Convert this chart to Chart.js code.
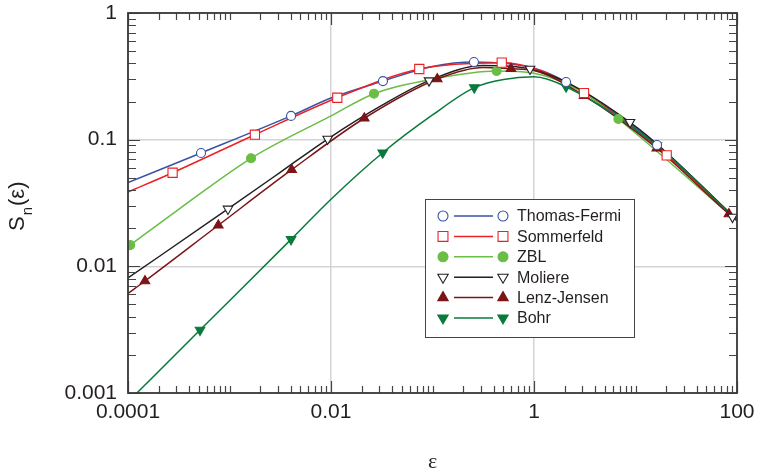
<!DOCTYPE html>
<html>
<head>
<meta charset="utf-8">
<script src="https://cdn.jsdelivr.net/npm/chart.js@4.4.0/dist/chart.umd.min.js"></script>
<style>
  html, body { margin: 0; padding: 0; background: #fff; }
  #c { display: block; }
</style>
</head>
<body>
<canvas id="c" width="757" height="474"></canvas>
<script>
// values: epsilon (x) and Sn(epsilon) (y)
const tfLineX = [1e-4, 5.24e-4, 4.04e-3, 0.01, 0.0325, 0.1, 0.256, 1, 2.07, 16.3, 100];
const tfLineY = [0.0459, 0.0785, 0.154, 0.213, 0.290, 0.378, 0.410, 0.366, 0.285, 0.0908, 0.0232];
const tfMarkX = [5.24e-4, 4.04e-3, 0.0325, 0.256, 2.07, 16.3];
const tfMarkY = [0.0785, 0.154, 0.290, 0.410, 0.285, 0.0908];

const sfLineX = [1e-4, 2.75e-4, 1.78e-3, 0.01153, 0.0741, 0.481, 1, 3.11, 20.3, 100];
const sfLineY = [0.0386, 0.0548, 0.1094, 0.2143, 0.3614, 0.4055, 0.366, 0.2333, 0.0752, 0.0229];
const sfMarkX = [2.75e-4, 1.78e-3, 0.01153, 0.0741, 0.481, 3.11, 20.3];
const sfMarkY = [0.0548, 0.1094, 0.2143, 0.3614, 0.4055, 0.2333, 0.0752];

const zblLineX = [1e-4, 3.16e-4, 1.63e-3, 0.01, 0.0265, 0.1, 0.4285, 1, 3.16, 6.78, 100];
const zblLineY = [0.0143, 0.0282, 0.0713, 0.154, 0.2307, 0.300, 0.3483, 0.334, 0.2323, 0.1455, 0.0229];
const zblMarkX = [1.05e-4, 1.63e-3, 0.0265, 0.4285, 6.78];
const zblMarkY = [0.0147, 0.0713, 0.2307, 0.3483, 0.1455];

const molLineX = [1e-4, 9.66e-4, 3.16e-3, 9.27e-3, 0.0316, 0.0925, 0.316, 0.914, 8.83, 100];
const molLineY = [0.00809, 0.0284, 0.0552, 0.1012, 0.1862, 0.2924, 0.3846, 0.3614, 0.1371, 0.0234];
const molMarkX = [9.66e-4, 9.27e-3, 0.0925, 0.914, 8.83, 90.2];
const molMarkY = [0.0284, 0.1012, 0.2924, 0.3614, 0.1371, 0.0245];

const ljLineX = [1e-4, 1.47e-4, 7.76e-4, 4.10e-3, 0.02128, 0.1114, 0.316, 0.593, 1, 3.11, 16.2, 83.2, 100];
const ljLineY = [0.00611, 0.00766, 0.0211, 0.0579, 0.1476, 0.3013, 0.372, 0.3631, 0.351, 0.2223, 0.0855, 0.0259, 0.0229];
const ljMarkX = [1.47e-4, 7.76e-4, 4.10e-3, 0.02128, 0.1114, 0.593, 3.11, 16.2, 83.2];
const ljMarkY = [0.00766, 0.0211, 0.0579, 0.1476, 0.3013, 0.3631, 0.2223, 0.0855, 0.0259];

const bohrLineX = [1e-4, 5.12e-4, 4.04e-3, 0.01, 0.0323, 0.1, 0.258, 0.501, 1, 2.07, 16.2, 100];
const bohrLineY = [0.000851, 0.00314, 0.01633, 0.0339, 0.0789, 0.1567, 0.2576, 0.299, 0.314, 0.2618, 0.0897, 0.0232];
const bohrMarkX = [5.12e-4, 4.04e-3, 0.0323, 0.258, 2.07, 16.2];
const bohrMarkY = [0.00314, 0.01633, 0.0789, 0.2576, 0.2618, 0.0897];

const xLabelValues = [1e-4, 1e-2, 1, 100];
const xTickLabels = ['0.0001', '0.01', '1', '100'];
const yLabelValues = [1e-3, 1e-2, 1e-1, 1];
const yTickLabels = ['0.001', '0.01', '0.1', '1'];

const FONT = '"Liberation Sans", Arial, sans-serif';
const INK = '#231f20';

const series = [
  {name: 'Thomas-Fermi', color: '#3953a4', lx: tfLineX, ly: tfLineY, mx: tfMarkX, my: tfMarkY, style: 'circle', rot: 0, filled: false, r: 4.5},
  {name: 'Sommerfeld', color: '#ed2024', lx: sfLineX, ly: sfLineY, mx: sfMarkX, my: sfMarkY, style: 'rect', rot: 0, filled: false, r: 6.5},
  {name: 'ZBL', color: '#6abd45', lx: zblLineX, ly: zblLineY, mx: zblMarkX, my: zblMarkY, style: 'circle', rot: 0, filled: true, r: 4.5},
  {name: 'Moliere', color: '#231f20', lx: molLineX, ly: molLineY, mx: molMarkX, my: molMarkY, style: 'triangle', rot: 180, filled: false, r: 5.5},
  {name: 'Lenz-Jensen', color: '#7d1416', lx: ljLineX, ly: ljLineY, mx: ljMarkX, my: ljMarkY, style: 'triangle', rot: 0, filled: true, r: 5.5},
  {name: 'Bohr', color: '#0a7a3c', lx: bohrLineX, ly: bohrLineY, mx: bohrMarkX, my: bohrMarkY, style: 'triangle', rot: 180, filled: true, r: 5.5}
];

const pts = (xs, ys) => xs.map((v, i) => ({x: v, y: ys[i]}));
const near = (v, list) => list.findIndex(m => Math.abs(Math.log10(v / m)) < 1e-6);

// all 1..9 x 10^k tick positions
function logTicks(lo, hi) {
  const t = [];
  for (let e = lo; e < hi; e++) {
    for (let m = 1; m < 10; m++) t.push({value: m * Math.pow(10, e)});
  }
  t.push({value: Math.pow(10, hi)});
  return t;
}

const datasets = [];
series.forEach((s, i) => {
  datasets.push({
    data: pts(s.lx, s.ly),
    showLine: true,
    borderColor: s.color,
    borderWidth: 1.5,
    pointRadius: 0,
    cubicInterpolationMode: 'monotone',
    fill: false,
    order: series.length - i
  });
});
series.forEach(s => {
  datasets.push({
    data: pts(s.mx, s.my),
    showLine: false,
    pointStyle: s.style,
    rotation: s.rot,
    pointRadius: s.r,
    pointBorderColor: s.color,
    pointBackgroundColor: s.filled ? s.color : '#ffffff',
    pointBorderWidth: 1.1,
    order: 0
  });
});

// frame with inward ticks on all four sides
const framePlugin = {
  id: 'frame',
  afterDatasetsDraw(chart) {
    const {ctx, chartArea: a, scales: {x, y}} = chart;
    ctx.save();
    ctx.strokeStyle = '#444';
    ctx.lineWidth = 1.2;
    ctx.beginPath();
    x.ticks.forEach(t => {
      const px = Math.round(x.getPixelForValue(t.value)) + 0.5;
      const len = near(t.value, xLabelValues) >= 0 ? 12 : 7;
      ctx.moveTo(px, a.bottom); ctx.lineTo(px, a.bottom - len);
      ctx.moveTo(px, a.top); ctx.lineTo(px, a.top + len);
    });
    y.ticks.forEach(t => {
      const py = Math.round(y.getPixelForValue(t.value)) + 0.5;
      const len = near(t.value, yLabelValues) >= 0 ? 12 : 8;
      ctx.moveTo(a.left, py); ctx.lineTo(a.left + len, py);
      ctx.moveTo(a.right, py); ctx.lineTo(a.right - len, py);
    });
    ctx.stroke();
    ctx.lineWidth = 1.8;
    ctx.strokeStyle = '#3a3a3a';
    ctx.strokeRect(a.left, a.top, a.right - a.left, a.bottom - a.top);
    ctx.restore();
  }
};

// axis titles and boxed legend
const decoPlugin = {
  id: 'deco',
  afterDraw(chart) {
    const {ctx, chartArea: a} = chart;
    ctx.save();
    ctx.fillStyle = INK;

    // y title: S_n(e), rotated
    ctx.translate(24, 231);
    ctx.rotate(-Math.PI / 2);
    ctx.textBaseline = 'alphabetic';
    ctx.textAlign = 'left';
    ctx.font = '22px ' + FONT;
    ctx.fillText('S', 0, 0);
    let w = ctx.measureText('S').width;
    ctx.font = '15px ' + FONT;
    ctx.fillText('n', w + 1, 8);
    w += ctx.measureText('n').width + 2;
    ctx.font = '22px ' + FONT;
    ctx.fillText('(ε)', w, 0);
    ctx.setTransform(1, 0, 0, 1, 0, 0);

    // x title
    ctx.font = '22px "Liberation Serif", "Times New Roman", serif';
    ctx.textAlign = 'center';
    ctx.fillText('ε', (a.left + a.right) / 2, 468);

    // legend
    const bx = 425, by = 199, bw = 209, bh = 138;
    ctx.fillStyle = '#fff';
    ctx.fillRect(bx, by, bw, bh);
    ctx.strokeStyle = '#444';
    ctx.lineWidth = 1;
    ctx.strokeRect(bx + 0.5, by + 0.5, bw, bh);
    ctx.font = '16px ' + FONT;
    ctx.textAlign = 'left';
    ctx.textBaseline = 'middle';
    series.forEach((s, i) => {
      const ry = by + 17 + i * 20.4;
      ctx.strokeStyle = s.color;
      ctx.lineWidth = 1.5;
      ctx.beginPath();
      ctx.moveTo(bx + 29, ry);
      ctx.lineTo(bx + 68, ry);
      ctx.stroke();
      const opt = {pointStyle: s.style, rotation: s.rot, radius: s.r + 0.5, borderWidth: 1.1};
      ctx.fillStyle = s.filled ? s.color : '#fff';
      ctx.lineWidth = 1.1;
      Chart.helpers.drawPoint(ctx, opt, bx + 18, ry);
      Chart.helpers.drawPoint(ctx, opt, bx + 78, ry);
      ctx.fillStyle = INK;
      ctx.fillText(s.name, bx + 92, ry + 1);
    });
    ctx.restore();
  }
};

new Chart(document.getElementById('c'), {
  type: 'scatter',
  data: {datasets},
  options: {
    responsive: false,
    animation: false,
    events: [],
    layout: {padding: {top: 13, right: 20, left: 0, bottom: 0}},
    plugins: {legend: {display: false}, tooltip: {enabled: false}},
    scales: {
      x: {
        type: 'logarithmic',
        min: 1e-4,
        max: 100,
        afterBuildTicks: (sc) => { sc.ticks = logTicks(-4, 2); },
        afterFit: (sc) => { sc.height = 81; sc.paddingLeft = 0; sc.paddingRight = 0; },
        border: {display: false},
        grid: {
          drawTicks: false,
          lineWidth: 1.5,
          color: (c) => (c.tick && near(c.tick.value, xLabelValues) >= 0) ? '#d4d4d4' : 'rgba(0,0,0,0)'
        },
        ticks: {
          autoSkip: false,
          maxRotation: 0,
          padding: 7,
          color: INK,
          font: {family: FONT, size: 21},
          callback: (v) => { const i = near(v, xLabelValues); return i >= 0 ? xTickLabels[i] : ''; }
        }
      },
      y: {
        type: 'logarithmic',
        min: 1e-3,
        max: 1,
        afterBuildTicks: (sc) => { sc.ticks = logTicks(-3, 0); },
        afterFit: (sc) => { sc.width = 128; sc.paddingTop = 0; sc.paddingBottom = 0; },
        border: {display: false},
        grid: {
          drawTicks: false,
          lineWidth: 1.5,
          color: (c) => (c.tick && near(c.tick.value, yLabelValues) >= 0) ? '#d4d4d4' : 'rgba(0,0,0,0)'
        },
        ticks: {
          autoSkip: false,
          padding: 11,
          color: INK,
          font: {family: FONT, size: 21},
          callback: (v) => { const i = near(v, yLabelValues); return i >= 0 ? yTickLabels[i] : ''; }
        }
      }
    }
  },
  plugins: [framePlugin, decoPlugin]
});
</script>
</body>
</html>
